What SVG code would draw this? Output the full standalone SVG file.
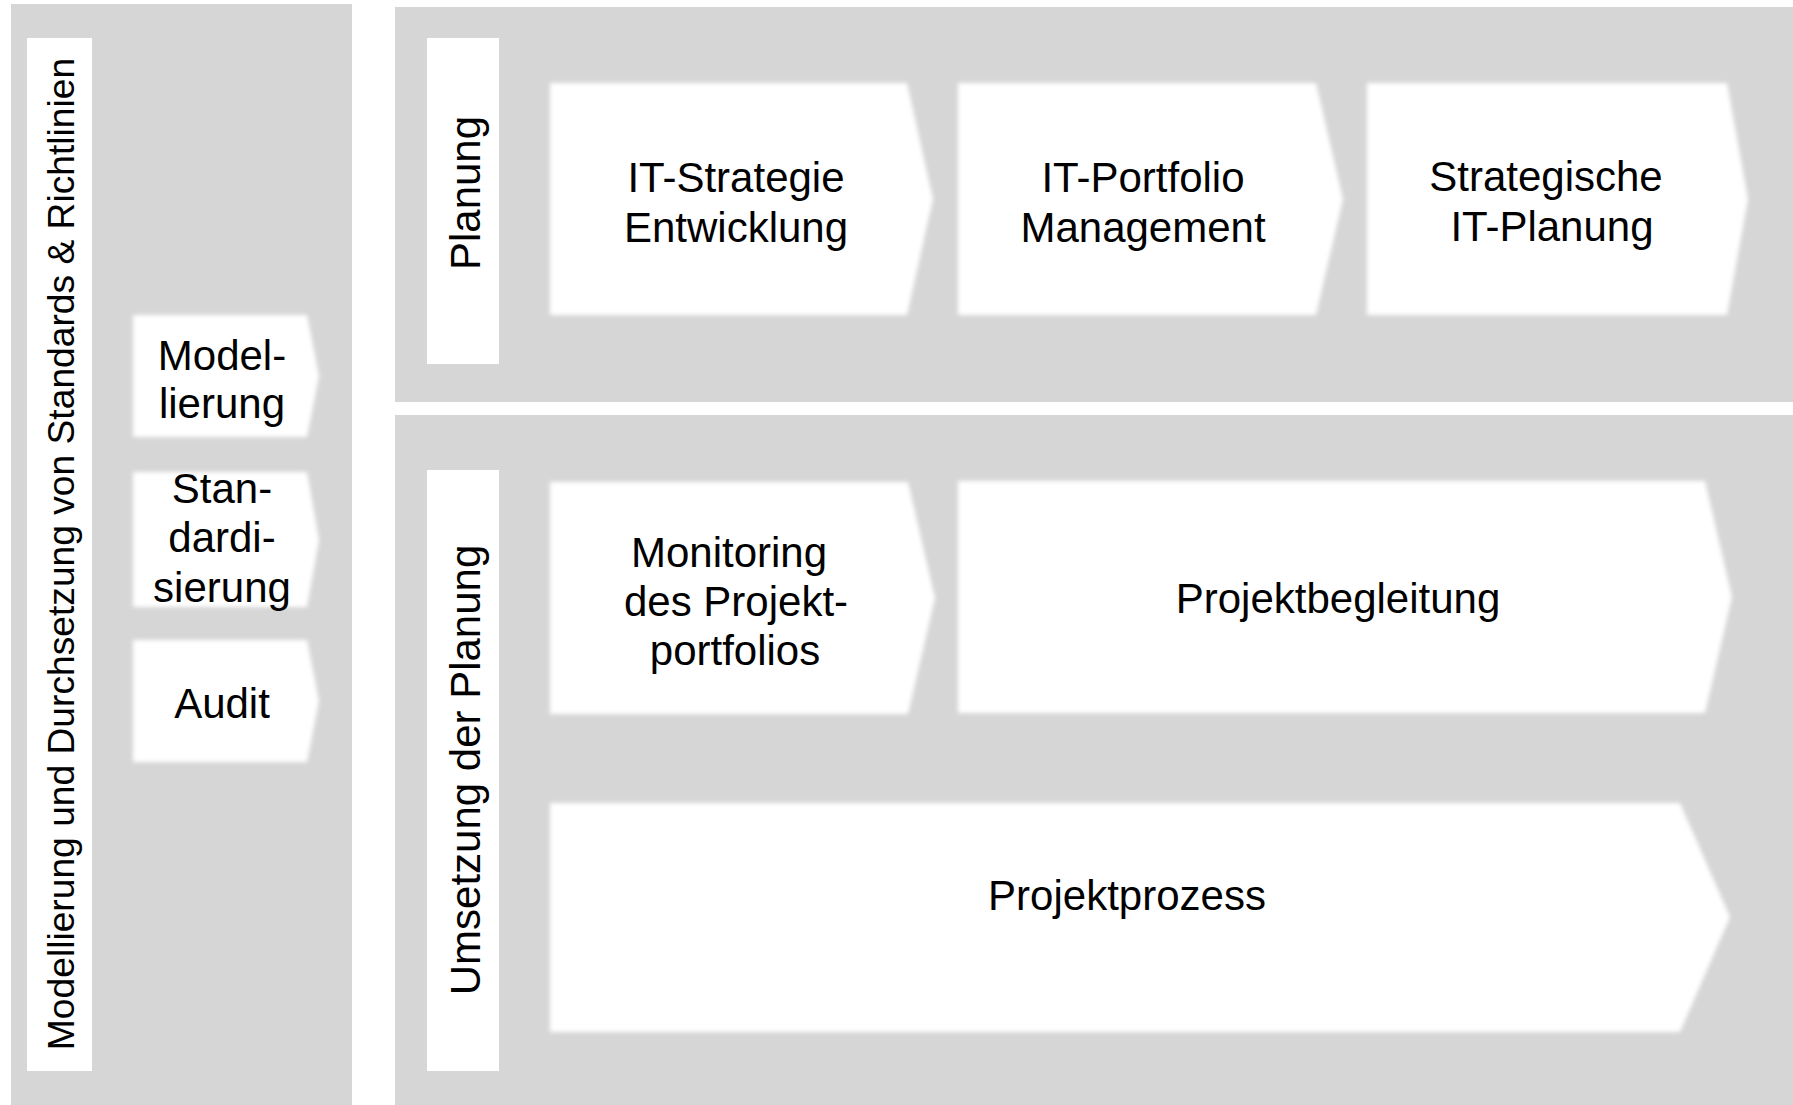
<svg xmlns="http://www.w3.org/2000/svg" width="1793" height="1105" viewBox="0 0 1793 1105">
<defs>
<style>
.panel{fill:#d6d6d6}
.bar{fill:#ffffff}
.chev{fill:#ffffff;filter:url(#soft)}
.t{font-family:"Liberation Sans",Arial,sans-serif;font-size:42px;fill:#000;text-anchor:middle}
.tl{font-family:"Liberation Sans",Arial,sans-serif;font-size:37.2px;fill:#000;text-anchor:middle}
</style>
<filter id="soft" x="-10%" y="-10%" width="120%" height="120%">
<feGaussianBlur stdDeviation="2.2"/>
</filter>
</defs>
<rect width="1793" height="1105" fill="#ffffff"/>

<g id="panels">
<rect class="panel" x="11" y="4" width="341" height="1101"/>
<rect class="panel" x="395" y="7" width="1398" height="395"/>
<rect class="panel" x="395" y="415" width="1398" height="690"/>
</g>

<g id="lane-governance">
<rect class="bar" x="27" y="38" width="65" height="1033"/>
<text class="tl" transform="translate(74,554) rotate(-90)">Modellierung und Durchsetzung von Standards &amp; Richtlinien</text>
</g>

<g id="lane-planung">
<rect class="bar" x="427" y="38" width="72" height="326"/>
<text class="t" transform="translate(480,193) rotate(-90)">Planung</text>
</g>

<g id="lane-umsetzung">
<rect class="bar" x="427" y="470" width="72" height="601"/>
<text class="t" transform="translate(480,770) rotate(-90)">Umsetzung der Planung</text>
</g>

<g id="node-modellierung">
<polygon class="chev" points="133,315 307,315 319,376 307,437 133,437"/>
<text class="t" x="222" y="370">Model-</text>
<text class="t" x="222" y="418">lierung</text>
</g>

<g id="node-standardisierung">
<polygon class="chev" points="133,472 307,472 319,540 307,607 133,607"/>
<text class="t" x="222" y="503">Stan-</text>
<text class="t" x="222" y="552">dardi-</text>
<text class="t" x="222" y="602">sierung</text>
</g>

<g id="node-audit">
<polygon class="chev" points="133,640 307,640 319,701 307,762 133,762"/>
<text class="t" x="222" y="718">Audit</text>
</g>

<g id="node-it-strategie">
<polygon class="chev" points="550,83 907,83 933,199 907,315 550,315"/>
<text class="t" x="736" y="192">IT-Strategie</text>
<text class="t" x="736" y="242">Entwicklung</text>
</g>

<g id="node-it-portfolio">
<polygon class="chev" points="958,83 1316,83 1343,199 1316,315 958,315"/>
<text class="t" x="1143" y="192">IT-Portfolio</text>
<text class="t" x="1143" y="242">Management</text>
</g>

<g id="node-strategische-planung">
<polygon class="chev" points="1367,83 1727,83 1748,199 1727,315 1367,315"/>
<text class="t" x="1546" y="191">Strategische</text>
<text class="t" x="1552" y="241">IT-Planung</text>
</g>

<g id="node-monitoring">
<polygon class="chev" points="550,482 908,482 935,598 908,714 550,714"/>
<text class="t" x="729" y="567">Monitoring</text>
<text class="t" x="736" y="616">des Projekt-</text>
<text class="t" x="735" y="665">portfolios</text>
</g>

<g id="node-projektbegleitung">
<polygon class="chev" points="958,481 1705,481 1732,597 1705,713 958,713"/>
<text class="t" x="1338" y="613">Projektbegleitung</text>
</g>

<g id="node-projektprozess">
<polygon class="chev" points="550,803 1680,803 1730,917 1680,1032 550,1032"/>
<text class="t" x="1127" y="910">Projektprozess</text>
</g>

<g id="connectors"/>
</svg>
